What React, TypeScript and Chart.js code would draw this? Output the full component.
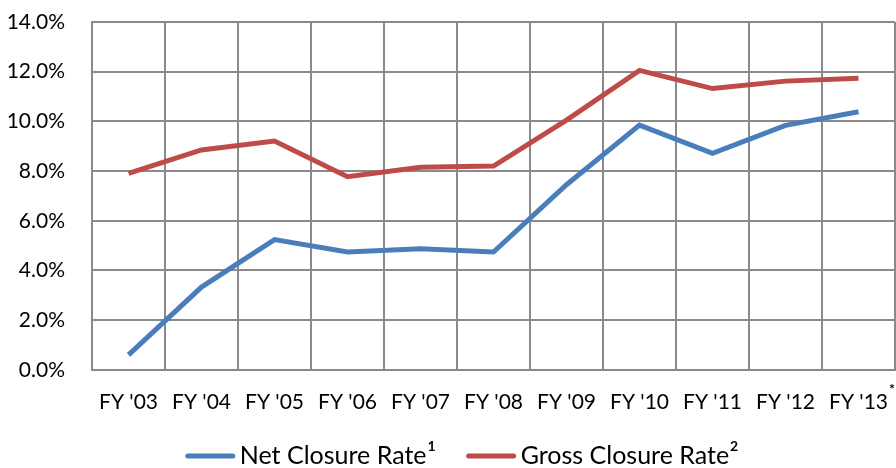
import React, { useEffect, useRef } from "react";
import { Chart, registerables } from "chart.js";

Chart.register(...registerables);

const categories = ["FY '03", "FY '04", "FY '05", "FY '06", "FY '07", "FY '08", "FY '09", "FY '10", "FY '11", "FY '12", "FY '13*"];
const netClosureRate = [0.6, 3.33, 5.24, 4.74, 4.87, 4.74, 7.45, 9.85, 8.71, 9.84, 10.39];
const grossClosureRate = [7.91, 8.85, 9.21, 7.77, 8.15, 8.2, 10.05, 12.05, 11.32, 11.62, 11.74];
const seriesNames = ["Net Closure Rate", "Gross Closure Rate"];
const seriesNotes = ["1", "2"];
const seriesColors = ["#4a7ebb", "#be4b48"];

const FONT = "Lato, 'Liberation Sans', sans-serif";

const legendPlugin = {
  id: "customLegend",
  afterDraw(chart: any) {
    const ctx = chart.ctx;
    const mainFont = `25px ${FONT}`;
    const supFont = `bold 14px ${FONT}`;
    const sample = 49;
    const gapSample = 5;
    const gapItem = 31;
    ctx.save();
    const items = seriesNames.map((name, i) => {
      ctx.font = mainFont;
      const tw = ctx.measureText(name).width;
      ctx.font = supFont;
      const sw = ctx.measureText(seriesNotes[i]).width;
      return { name, tw, sw, w: sample + gapSample + tw + 1 + sw };
    });
    const total = items.reduce((a, b) => a + b.w, 0) + gapItem * (items.length - 1);
    let x = 462 - total / 2;
    const baseline = 464;
    items.forEach((it, i) => {
      ctx.strokeStyle = seriesColors[i];
      ctx.lineWidth = 5;
      ctx.lineCap = "round";
      ctx.beginPath();
      ctx.moveTo(x + 2, baseline - 8);
      ctx.lineTo(x + sample - 2, baseline - 8);
      ctx.stroke();
      x += sample + gapSample;
      ctx.fillStyle = "#000";
      ctx.textBaseline = "alphabetic";
      ctx.textAlign = "left";
      ctx.font = mainFont;
      ctx.fillText(it.name, x, baseline);
      x += it.tw + 1;
      ctx.font = supFont;
      ctx.fillText(seriesNotes[i], x, baseline - 13);
      x += it.sw + gapItem;
    });
    // footnote marker on last category label
    const xs = chart.scales.x;
    const lastIdx = categories.length - 1;
    const raw = categories[lastIdx];
    if (raw.endsWith("*")) {
      const px = xs.getPixelForTick(lastIdx);
      ctx.font = `21px ${FONT}`;
      const lw = ctx.measureText(raw.slice(0, -1)).width;
      ctx.font = `bold 14px ${FONT}`;
      ctx.fillText("*", px + lw / 2 + 1, chart.chartArea.bottom + 24);
    }
    ctx.restore();
  },
};

export default function App() {
  const ref = useRef<HTMLCanvasElement | null>(null);
  useEffect(() => {
    if (!ref.current) return;
    const chart = new Chart(ref.current, {
      type: "line",
      data: {
        labels: categories,
        datasets: [
          {
            label: seriesNames[0],
            data: netClosureRate,
            borderColor: seriesColors[0],
            backgroundColor: seriesColors[0],
            borderWidth: 5,
            pointRadius: 0,
            tension: 0,
          },
          {
            label: seriesNames[1],
            data: grossClosureRate,
            borderColor: seriesColors[1],
            backgroundColor: seriesColors[1],
            borderWidth: 5,
            pointRadius: 0,
            tension: 0,
          },
        ],
      },
      plugins: [legendPlugin],
      options: {
        animation: false,
        responsive: true,
        maintainAspectRatio: false,
        layout: { padding: { left: 0, right: 1, top: 22, bottom: 53 } },
        plugins: {
          tooltip: { enabled: false },
          legend: { display: false },
        },
        scales: {
          x: {
            offset: true,
            grid: {
              display: true,
              offset: true,
              color: "#8a8a8a",
              lineWidth: 2,
              drawTicks: true,
              tickLength: 20,
              tickColor: "rgba(0,0,0,0)",
            },
            border: { color: "#8a8a8a", width: 2 },
            ticks: {
              color: "#000",
              font: { family: FONT, size: 21 },
              padding: 0,
              maxRotation: 0,
              autoSkip: false,
              callback: (_v: any, i: number) => categories[i].replace(/\*$/, ""),
            },
          },
          y: {
            min: 0,
            max: 14,
            afterFit: (s: any) => {
              s.width = 92;
            },
            grid: {
              color: "#8a8a8a",
              lineWidth: 2,
              drawTicks: true,
              tickLength: 27,
              tickColor: "rgba(0,0,0,0)",
            },
            border: { color: "#8a8a8a", width: 2 },
            ticks: {
              stepSize: 2,
              color: "#000",
              font: { family: FONT, size: 21 },
              padding: 0,
              callback: (v: any) => Number(v).toFixed(1) + "%",
            },
          },
        },
      },
    });
    return () => chart.destroy();
  }, []);
  return (
    <div style={{ position: "absolute", left: 0, top: 0, width: 896, height: 468, background: "#fff" }}>
      <canvas ref={ref} />
    </div>
  );
}
